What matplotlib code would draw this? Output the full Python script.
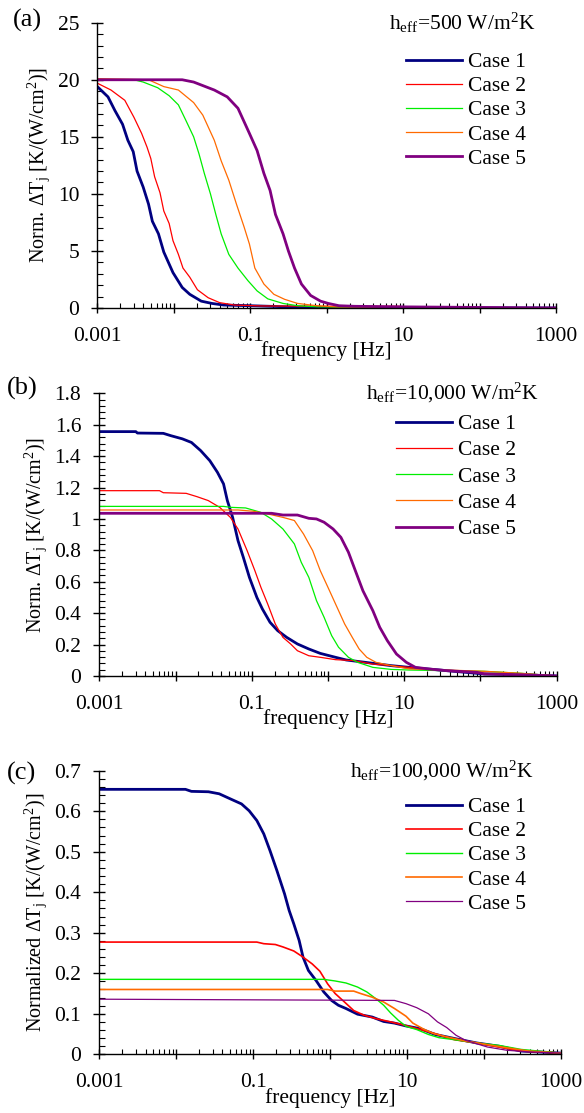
"""Normalized junction temperature rise vs. frequency for three h_eff values."""

import matplotlib
matplotlib.use("Agg")
import matplotlib.pyplot as plt
from matplotlib.ticker import FixedLocator, FuncFormatter, LogLocator, MultipleLocator, NullFormatter

plt.rcParams["font.family"] = ["Liberation Serif", "DejaVu Serif"]
plt.rcParams["mathtext.fontset"] = "custom"
plt.rcParams["mathtext.rm"] = "Liberation Serif"
plt.rcParams["mathtext.it"] = "Liberation Serif:italic"

case_labels = ["Case 1", "Case 2", "Case 3", "Case 4", "Case 5"]

# ---- panel (a): h_eff = 500 W/m2K ----
a_case1_hz = [0.001, 0.00138, 0.0017, 0.00214, 0.00251, 0.00295, 0.00331, 0.00398, 0.00468, 0.00525,
              0.00631, 0.00741, 0.00977, 0.0129, 0.0162, 0.0229, 0.0316, 0.0447, 0.1, 0.316, 1, 10, 1000]
a_case1_dt = [19.4, 18.5, 17.3, 16.1, 14.7, 13.7, 12.0, 10.6, 9.1, 7.6,
              6.5, 4.9, 3.1, 1.8, 1.2, 0.6, 0.4, 0.26, 0.2, 0.1, 0.05, 0.02, 0.0]
a_case2_hz = [0.001, 0.00151, 0.00229, 0.00302, 0.0038, 0.00447, 0.00501, 0.00562, 0.00661, 0.00741,
              0.00871, 0.00977, 0.0115, 0.0132, 0.0162, 0.0204, 0.0282, 0.0398, 0.0617, 0.138, 1, 8.9, 10, 1000]
a_case2_dt = [19.7, 19.1, 18.2, 16.7, 15.3, 14.1, 13.1, 11.5, 10.1, 8.5,
              7.4, 5.9, 4.7, 3.5, 2.7, 1.6, 0.9, 0.47, 0.26, 0.18, 0.15, 0.15, 0.0, 0.0]
a_case3_hz = [0.001, 0.00302, 0.00398, 0.00617, 0.00871, 0.0115, 0.0145, 0.0182, 0.0214, 0.0251, 0.0302,
              0.0355, 0.0417, 0.0525, 0.0692, 0.0933, 0.123, 0.17, 0.269, 0.417, 0.741, 3.16, 1000]
a_case3_dt = [20.0, 20.0, 19.8, 19.3, 18.6, 17.8, 16.4, 15.0, 13.5, 11.8, 10.0,
              8.2, 6.5, 4.7, 3.5, 2.4, 1.5, 0.8, 0.4, 0.2, 0.1, 0.05, 0.0]
a_case4_hz = [0.001, 0.00468, 0.00741, 0.0115, 0.0182, 0.024, 0.0339, 0.0417, 0.0525, 0.0661, 0.0832,
              0.0977, 0.115, 0.151, 0.204, 0.282, 0.417, 0.741, 1.29, 10, 1000]
a_case4_dt = [20.1, 20.0, 19.4, 19.1, 18.0, 16.9, 14.7, 12.9, 11.2, 9.1, 7.1,
              5.6, 3.5, 2.1, 1.2, 0.76, 0.4, 0.2, 0.1, 0.02, 0.0]
a_case5_hz = [0.001, 0.0129, 0.0182, 0.0339, 0.0501, 0.0692, 0.0977, 0.123, 0.151, 0.182, 0.214,
              0.269, 0.316, 0.38, 0.468, 0.617, 0.832, 1.05, 1.45, 2.29, 10, 1000]
a_case5_dt = [20.0, 20.0, 19.8, 19.1, 18.5, 17.5, 15.3, 13.8, 11.8, 10.3, 8.2,
              6.5, 5.0, 3.5, 2.1, 1.1, 0.6, 0.4, 0.2, 0.15, 0.1, 0.0]

# ---- panel (b): h_eff = 10,000 W/m2K ----
b_case1_hz = [0.001, 0.00302, 0.00316, 0.00692, 0.00871, 0.0123, 0.0162, 0.0214, 0.0282, 0.0355, 0.0427,
              0.0479, 0.0562, 0.0661, 0.0776, 0.0933, 0.117, 0.138, 0.174, 0.219, 0.288, 0.398, 0.562,
              0.794, 1.26, 1.74, 3.09, 6.76, 11.7, 36.3, 112, 347, 1000]
b_case1_dt = [1.556, 1.556, 1.547, 1.545, 1.53, 1.51, 1.487, 1.435, 1.371, 1.297, 1.223,
              1.117, 1.01, 0.862, 0.756, 0.628, 0.50, 0.427, 0.342, 0.289, 0.246, 0.204, 0.172,
              0.144, 0.119, 0.102, 0.087, 0.066, 0.055, 0.034, 0.013, 0.008, 0.0]
b_case2_hz = [0.001, 0.00617, 0.00692, 0.0138, 0.0191, 0.0269, 0.038, 0.0525, 0.0661, 0.0871, 0.11,
              0.132, 0.162, 0.204, 0.257, 0.324, 0.398, 0.562, 0.794, 1.26, 2.19, 3.89, 6.76, 11.7,
              36.3, 112, 617, 1000]
b_case2_dt = [1.18, 1.18, 1.167, 1.163, 1.142, 1.117, 1.074, 1.01, 0.936, 0.798, 0.671,
              0.565, 0.459, 0.331, 0.246, 0.204, 0.161, 0.129, 0.119, 0.104, 0.098, 0.076, 0.066, 0.055,
              0.034, 0.017, 0.008, 0.0]
b_case3_hz = [0.001, 0.0427, 0.0525, 0.0832, 0.132, 0.182, 0.257, 0.363, 0.447, 0.562, 0.708,
              0.891, 1.12, 1.38, 1.86, 2.45, 3.89, 6.76, 11.7, 36.3, 112, 347, 1000]
b_case3_dt = [1.08, 1.08, 1.074, 1.07, 1.042, 1.0, 0.936, 0.841, 0.724, 0.628, 0.48,
              0.374, 0.257, 0.183, 0.119, 0.087, 0.055, 0.042, 0.038, 0.034, 0.03, 0.017, 0.0]
b_case4_hz = [0.001, 0.0661, 0.105, 0.162, 0.257, 0.363, 0.479, 0.631, 0.794, 1.05, 1.32,
              1.66, 2.09, 2.57, 3.24, 4.27, 6.76, 11.7, 36.3, 112, 347, 1000]
b_case4_dt = [1.057, 1.057, 1.049, 1.032, 1.01, 0.99, 0.904, 0.798, 0.671, 0.543, 0.437,
              0.331, 0.246, 0.172, 0.119, 0.087, 0.066, 0.045, 0.038, 0.03, 0.017, 0.0]
b_case5_hz = [0.001, 0.182, 0.257, 0.398, 0.562, 0.708, 0.891, 1.17, 1.48, 1.86, 2.29,
              2.88, 3.89, 4.79, 6.03, 7.94, 10.7, 14.1, 20.9, 36.3, 91.2, 112, 347, 1000]
b_case5_dt = [1.036, 1.036, 1.025, 1.025, 1.004, 1.0, 0.979, 0.936, 0.883, 0.788, 0.671,
              0.543, 0.416, 0.31, 0.225, 0.14, 0.087, 0.055, 0.045, 0.034, 0.023, 0.013, 0.008, 0.0]

# ---- panel (c): h_eff = 100,000 W/m2K ----
c_case1_hz = [0.001, 0.0132, 0.0158, 0.0263, 0.0363, 0.0513, 0.0708, 0.0891, 0.112, 0.138, 0.166,
              0.204, 0.257, 0.295, 0.339, 0.398, 0.447, 0.525, 0.661, 0.832, 1.05, 1.29, 1.62,
              2.29, 3.55, 5.01, 6.92, 9.77, 15.1, 23.4, 41.7, 81.3, 158, 309, 1000]
c_case1_dt = [0.654, 0.654, 0.649, 0.648, 0.643, 0.630, 0.618, 0.601, 0.577, 0.544, 0.503,
              0.454, 0.396, 0.355, 0.322, 0.281, 0.240, 0.207, 0.182, 0.154, 0.133, 0.121, 0.113,
              0.099, 0.092, 0.081, 0.077, 0.070, 0.063, 0.049, 0.039, 0.028, 0.020, 0.008, 0.003]
c_case2_hz = [0.001, 0.112, 0.138, 0.195, 0.245, 0.339, 0.447, 0.589, 0.741, 0.933, 1.17,
              1.55, 2.04, 2.82, 3.98, 6.17, 9.77, 15.1, 23.4, 41.7, 81.3, 158, 309, 1000]
c_case2_dt = [0.277, 0.277, 0.273, 0.271, 0.265, 0.255, 0.240, 0.223, 0.205, 0.174, 0.150,
              0.129, 0.108, 0.096, 0.088, 0.080, 0.071, 0.061, 0.051, 0.036, 0.028, 0.018, 0.008, 0.003]
c_case3_hz = [0.001, 0.832, 1.17, 1.62, 2.29, 3.02, 3.98, 5.01, 6.17, 7.76, 9.77,
              13.5, 19.1, 26.3, 41.7, 81.3, 158, 309, 1000]
c_case3_dt = [0.185, 0.185, 0.181, 0.176, 0.166, 0.154, 0.137, 0.121, 0.102, 0.084, 0.069,
              0.061, 0.049, 0.041, 0.036, 0.028, 0.022, 0.012, 0.003]
c_case4_hz = [0.001, 0.933, 1.17, 2.04, 2.51, 3.55, 5.01, 6.92, 9.77, 12.0, 16.2,
              22.4, 33.1, 57.5, 102, 200, 389, 1000]
c_case4_dt = [0.160, 0.160, 0.156, 0.156, 0.150, 0.141, 0.129, 0.113, 0.094, 0.077, 0.063,
              0.051, 0.043, 0.033, 0.025, 0.016, 0.008, 0.003]
c_case5_hz = [0.001, 6.92, 9.77, 13.5, 19.1, 25.1, 33.1, 43.7, 57.5, 81.3, 112, 200, 389, 1000]
c_case5_dt = [0.136, 0.133, 0.125, 0.115, 0.100, 0.080, 0.066, 0.047, 0.035, 0.026, 0.018,
              0.010, 0.006, 0.003]

COLORS = ["#000080", "#ff0000", "#00ee00", "#ff6a00", "#800080"]

W, H = 584, 1113


def px_rect(x0, y0, x1, y1):
    """Pixel box (top-left origin) -> figure fraction rect."""
    return [x0 / W, 1 - y1 / H, (x1 - x0) / W, (y1 - y0) / H]


def style_axes(ax, ymax, ymajor):
    ax.set_xscale("log")
    ax.set_xlim(0.001, 1000)
    ax.set_ylim(0, ymax)
    for side in ("top", "right"):
        ax.spines[side].set_visible(False)
    for side in ("left", "bottom"):
        ax.spines[side].set_linewidth(1.0)

    ax.xaxis.set_major_locator(FixedLocator([1e-3, 1e-2, 1e-1, 1, 10, 100, 1000]))
    ax.xaxis.set_major_formatter(FuncFormatter(
        lambda v, _: {1e-3: "0.001", 1e-1: "0.1", 10: "10", 1000: "1000"}.get(round(v, 6), "")))
    ax.xaxis.set_minor_locator(LogLocator(base=10, subs=range(2, 10), numticks=20))
    ax.xaxis.set_minor_formatter(NullFormatter())

    ax.yaxis.set_major_locator(MultipleLocator(ymajor))
    ax.yaxis.set_minor_locator(MultipleLocator(ymajor / 5))
    ax.yaxis.set_major_formatter(FuncFormatter(lambda v, _: f"{v:g}"))

    ax.tick_params(axis="x", which="major", direction="inout", length=7, width=1, pad=10, labelsize=15.5)
    ax.tick_params(axis="x", which="minor", direction="in", length=3.5, width=0.8)
    ax.tick_params(axis="y", which="major", direction="inout", length=9, width=1, pad=8.5, labelsize=15.5)
    ax.tick_params(axis="y", which="minor", direction="in", length=4, width=0.8)
    ax.set_xlabel("frequency [Hz]", fontsize=15.5, labelpad=-3)


def draw_panel(fig, rect, series, widths, ymax, ymajor, ylabel, tag, tag_xy, note, note_xy, leg_xy, leg_gap):
    ax = fig.add_axes(rect)
    for (hz, dt), color, lw, label in zip(series, COLORS, widths, case_labels):
        ax.plot(hz, dt, color=color, lw=lw, label=label)
    style_axes(ax, ymax, ymajor)
    ax.set_ylabel(ylabel, fontsize=14.5, labelpad=4)

    fig.text(tag_xy[0] / W, 1 - tag_xy[1] / H, tag, fontsize=19, ha="center", va="center")
    fig.text(note_xy[0] / W, 1 - note_xy[1] / H, note, fontsize=15.5, ha="right", va="baseline")
    ax.legend(loc="upper left", bbox_to_anchor=(leg_xy[0] / W, 1 - leg_xy[1] / H),
              bbox_transform=fig.transFigure, frameon=False, fontsize=15.5,
              handlelength=2.6, handletextpad=0.3, labelspacing=leg_gap,
              borderpad=0, borderaxespad=0)
    return ax


fig = plt.figure(figsize=(W / 100, H / 100), dpi=100)

draw_panel(
    fig, px_rect(97.3, 22.7, 556, 308),
    [(a_case1_hz, a_case1_dt), (a_case2_hz, a_case2_dt), (a_case3_hz, a_case3_dt),
     (a_case4_hz, a_case4_dt), (a_case5_hz, a_case5_dt)],
    [2.0, 0.9, 0.9, 0.9, 2.0], 25, 5,
    r"Norm. $\Delta$T$_{\rm j}$ [K/(W/cm$^2$)]", "(a)", (27, 20),
    r"h$_{\rm eff}$=500 W/m$^2$K", (535, 30), (406, 52), 0.19)

draw_panel(
    fig, px_rect(99.3, 393.3, 556.5, 676),
    [(b_case1_hz, b_case1_dt), (b_case2_hz, b_case2_dt), (b_case3_hz, b_case3_dt),
     (b_case4_hz, b_case4_dt), (b_case5_hz, b_case5_dt)],
    [2.0, 0.9, 0.9, 0.9, 2.0], 1.8, 0.2,
    r"Norm. $\Delta$T$_{\rm j}$ [K/(W/cm$^2$)]", "(b)", (22, 388),
    r"h$_{\rm eff}$=10,000 W/m$^2$K", (539, 399), (396, 414), 0.29)

draw_panel(
    fig, px_rect(99.3, 770.7, 560.5, 1054.3),
    [(c_case1_hz, c_case1_dt), (c_case2_hz, c_case2_dt), (c_case3_hz, c_case3_dt),
     (c_case4_hz, c_case4_dt), (c_case5_hz, c_case5_dt)],
    [2.0, 1.2, 1.0, 1.2, 0.9], 0.7, 0.1,
    r"Normalized $\Delta$T$_{\rm j}$ [K/(W/cm$^2$)]", "(c)", (22, 773),
    r"h$_{\rm eff}$=100,000 W/m$^2$K", (534, 777), (406, 797), 0.19)

fig.savefig("out.png", dpi=100)
